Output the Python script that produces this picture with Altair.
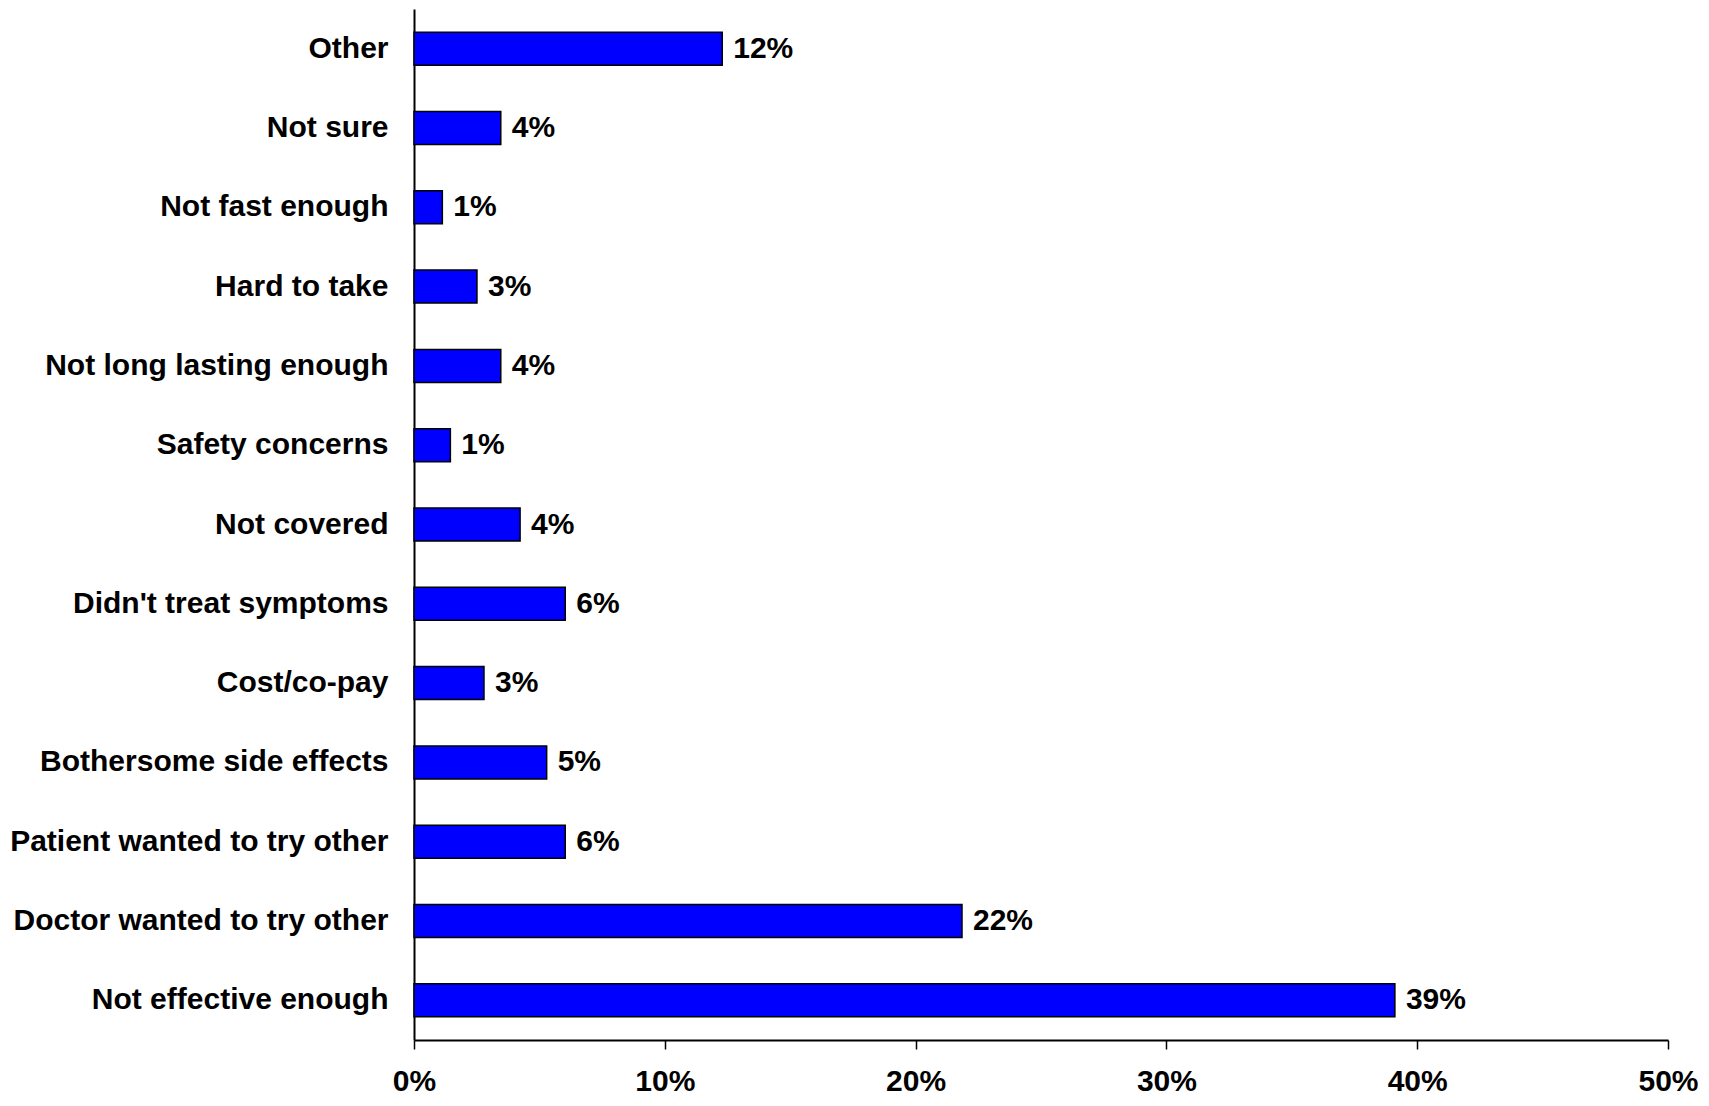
import altair as alt
import pandas as pd

categories = [
    "Other",
    "Not sure",
    "Not fast enough",
    "Hard to take",
    "Not long lasting enough",
    "Safety concerns",
    "Not covered",
    "Didn't treat symptoms",
    "Cost/co-pay",
    "Bothersome side effects",
    "Patient wanted to try other",
    "Doctor wanted to try other",
    "Not effective enough",
]
values = [0.1229, 0.0346, 0.0113, 0.0251, 0.0346, 0.0145, 0.0423,
          0.0603, 0.0279, 0.0529, 0.0603, 0.2185, 0.3911]
value_labels = ["12%", "4%", "1%", "3%", "4%", "1%", "4%",
                "6%", "3%", "5%", "6%", "22%", "39%"]
x_ticks = [0, 0.1, 0.2, 0.3, 0.4, 0.5]

df = pd.DataFrame({"reason": categories, "share": values, "label": value_labels})

FONT = "Arial, Liberation Sans, sans-serif"

y_enc = alt.Y(
    "reason:N",
    sort=categories,
    title=None,
    scale=alt.Scale(paddingInner=0.584, paddingOuter=0.292),
    axis=alt.Axis(
        ticks=False,
        labelPadding=26,
        labelFont=FONT,
        labelFontSize=30,
        labelFontWeight="bold",
        labelColor="black",
        labelLimit=600,
        domainColor="black",
        domainWidth=2,
        grid=False,
    ),
)

x_enc = alt.X(
    "share:Q",
    title=None,
    scale=alt.Scale(domain=[0, 0.5], nice=False, zero=True),
    axis=alt.Axis(
        values=x_ticks,
        format=".0%",
        tickSize=9,
        tickColor="black",
        tickWidth=1.5,
        labelPadding=17,
        labelFont=FONT,
        labelFontSize=30,
        labelFontWeight="bold",
        labelColor="black",
        labelFlush=False,
        domainColor="black",
        domainWidth=2,
        grid=False,
    ),
)

bars = alt.Chart(df).mark_bar(
    color="#0000FF", stroke="black", strokeWidth=1.5
).encode(x=x_enc, y=y_enc)

labels = alt.Chart(df).mark_text(
    align="left", baseline="middle", dx=11,
    font=FONT, fontSize=30, fontWeight="bold", color="black"
).encode(
    x=alt.X("share:Q"),
    y=alt.Y("reason:N", sort=categories),
    text="label:N",
)

chart = (
    alt.layer(bars, labels)
    .properties(
        width=1254,
        height=1031,
        background="white",
        autosize=alt.AutoSizeParams(type="none"),
        padding={"left": 406, "top": 1, "right": 30, "bottom": 58},
    )
    .configure_view(strokeWidth=0, stroke="transparent")
)

chart.save("out.html", embed_options={"renderer": "svg", "actions": False})
